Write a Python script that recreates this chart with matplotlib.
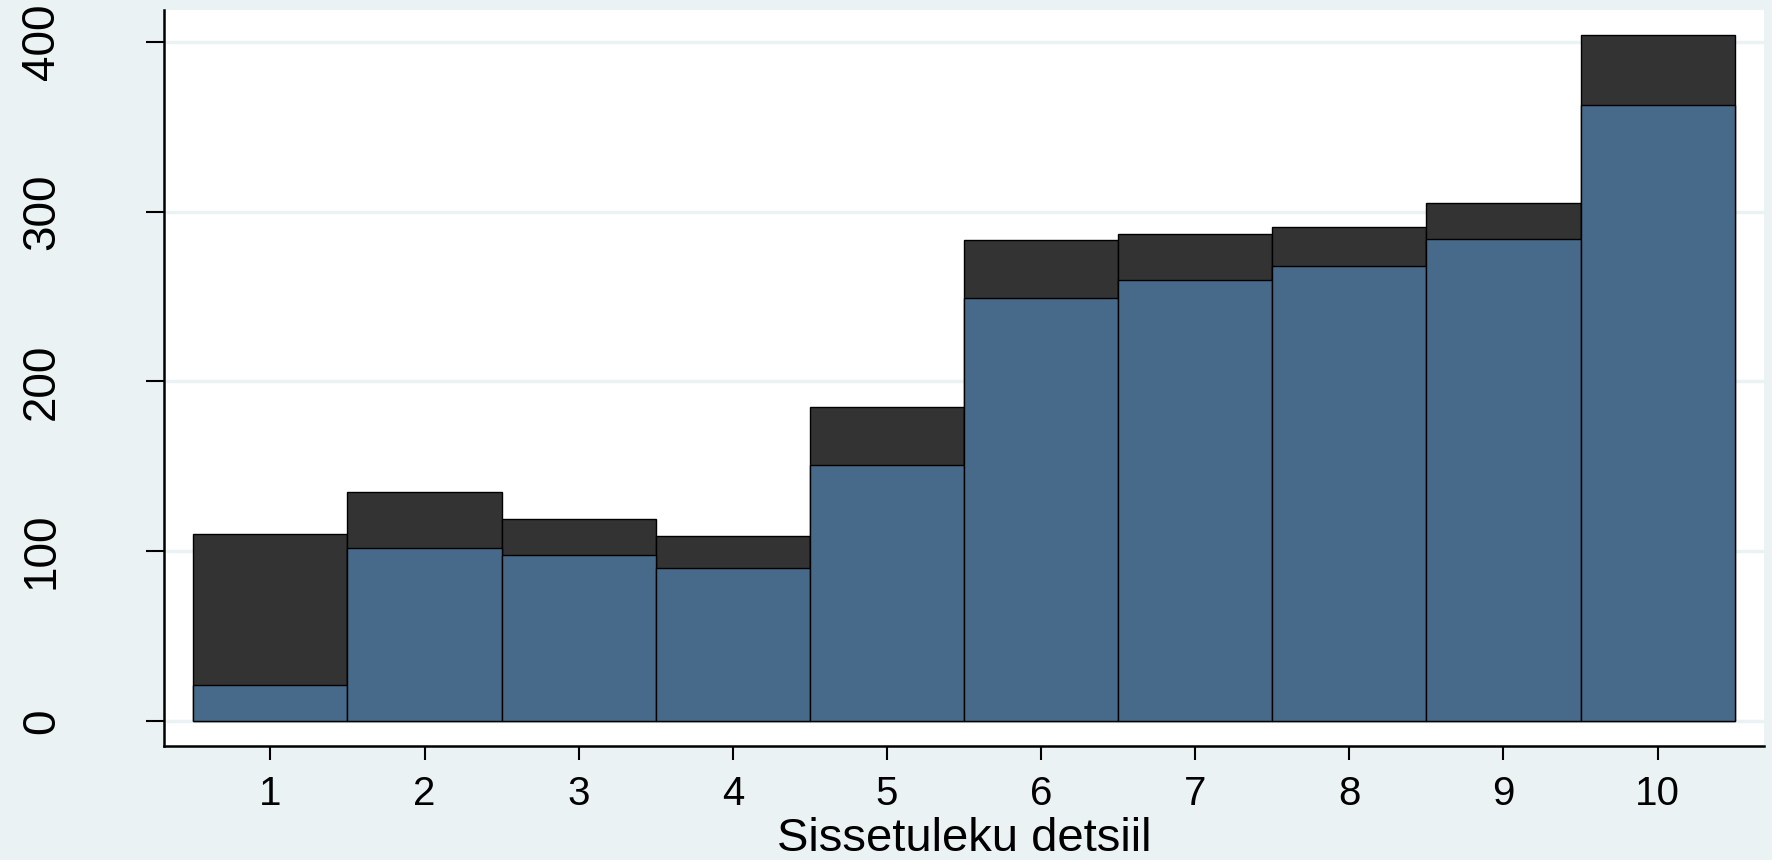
"""
Decile bar chart, Stata s2color look
"""

import matplotlib as mpl
import matplotlib.pyplot as plt

deciles = [1, 2, 3, 4, 5, 6, 7, 8, 9, 10]
total = [110, 135, 119, 109, 185, 283, 287, 291, 305, 404]
part = [21, 102, 98, 90, 151, 249, 260, 268, 284, 363]
yticks = [0, 100, 200, 300, 400]

bg = '#EAF2F3'
blue = '#476A8A'
dark = '#333333'

mpl.rcParams['font.family'] = ['Liberation Sans', 'DejaVu Sans']

fig = plt.figure(figsize=(17.72, 8.6), dpi=100, facecolor=bg)
ax = fig.add_axes([164/1772, (860-746)/860, 1600/1772, 736/860])
ax.set_facecolor('white')

# grid lines behind the bars
for y in yticks:
    ax.axhline(y, color=bg, lw=2.5, zorder=0)

ax.bar(deciles, total, width=1.0, color=dark, edgecolor='black', lw=1, zorder=2)
ax.bar(deciles, part, width=1.0, color=blue, edgecolor='black', lw=1, zorder=3)

ax.set_xlim(0.31, 10.69)
ax.set_ylim(-14.7, 418.7)

ax.set_xticks(deciles)
ax.set_yticks(yticks)
ax.set_yticklabels([str(v) for v in yticks], rotation=90, va='center')
ax.tick_params(axis='y', labelsize=33, length=13, width=1.5, pad=59)
ax.tick_params(axis='x', labelsize=29, length=10, width=1.5, pad=11)

for s in ('top', 'right'):
    ax.spines[s].set_visible(False)
for s in ('left', 'bottom'):
    ax.spines[s].set_linewidth(1.8)

ax.set_xlabel('Sissetuleku detsiil', fontsize=34, labelpad=3)

plt.savefig('out.png', dpi=100, facecolor=bg)
plt.close()
